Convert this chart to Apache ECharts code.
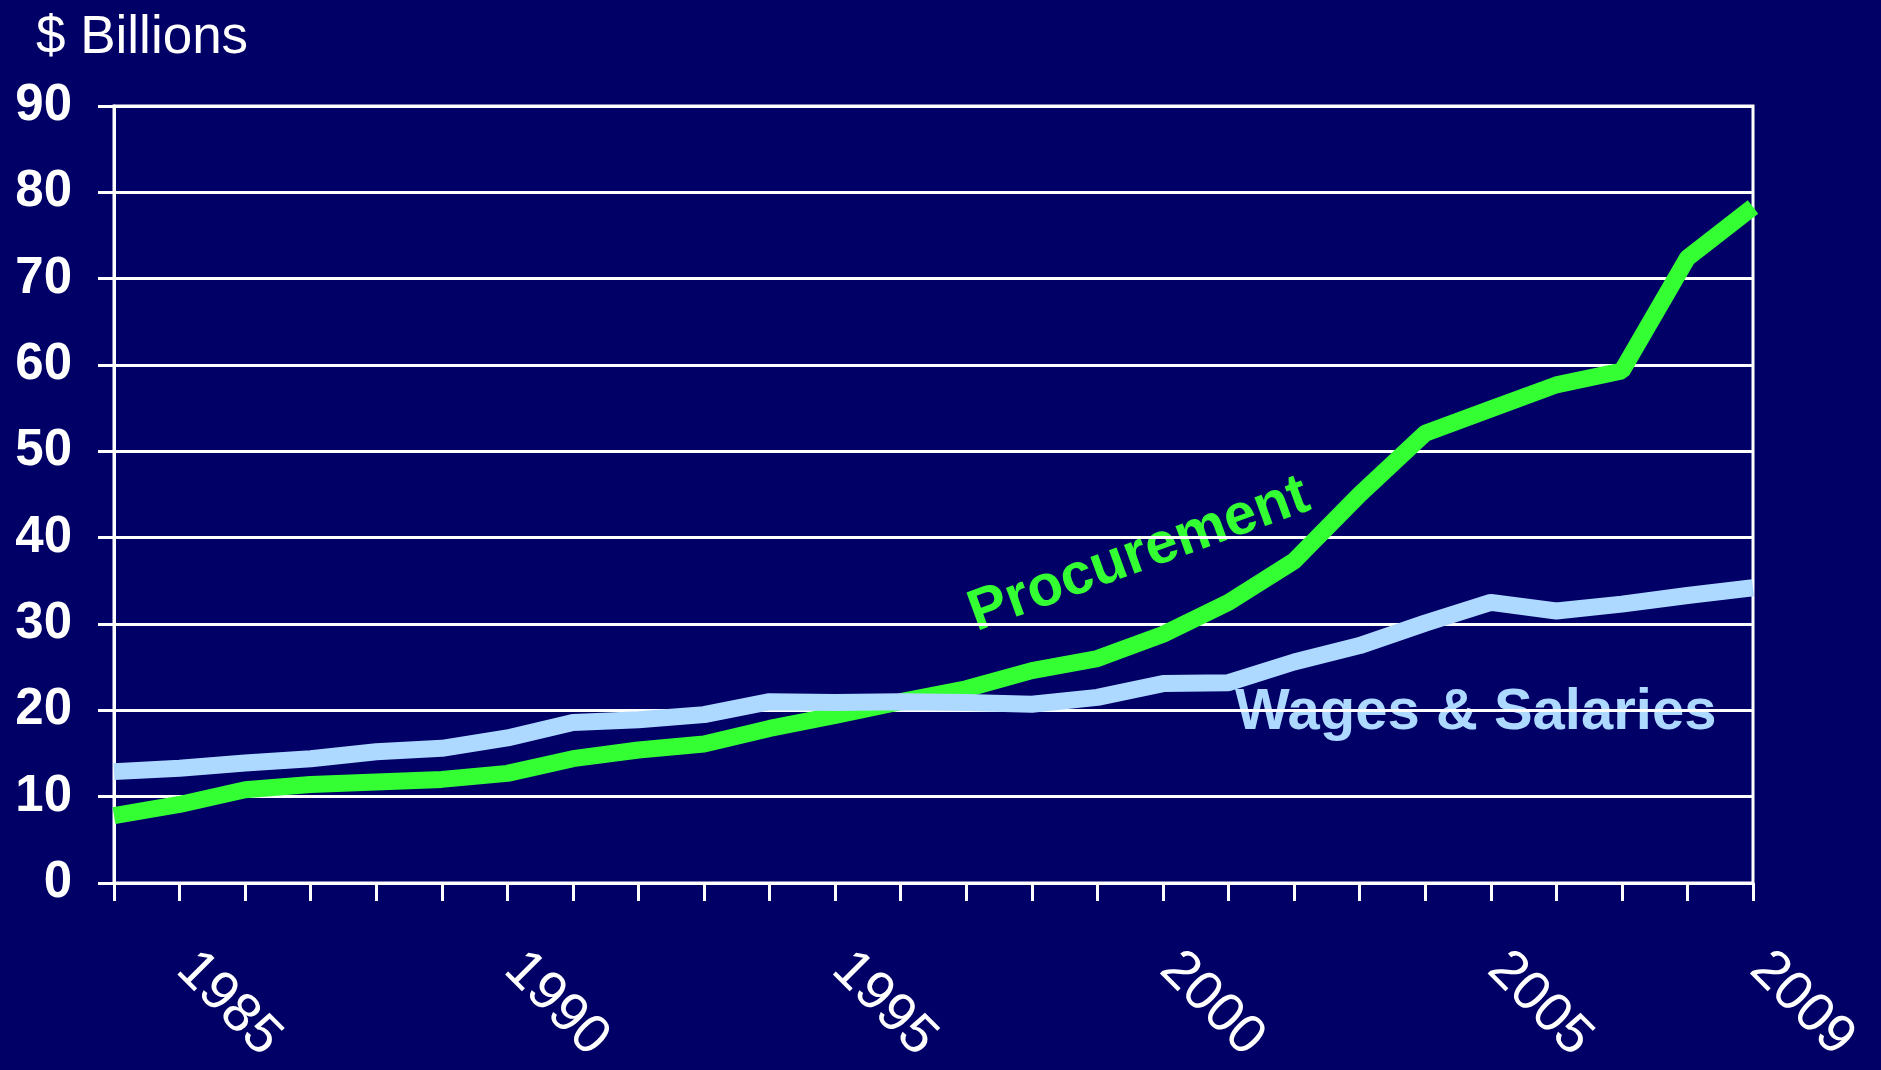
<!DOCTYPE html>
<html>
<head>
<meta charset="utf-8">
<title>Procurement vs Wages & Salaries</title>
<script src="https://cdn.jsdelivr.net/npm/echarts@6/dist/echarts.min.js"></script>
<style>
  html, body { margin: 0; padding: 0; background: #000066; }
  #main { width: 1881px; height: 1070px; }
</style>
</head>
<body>
<div id="main"></div>
<script type="text/javascript">
  var years = ['1984','1985','1986','1987','1988','1989','1990','1991','1992','1993','1994','1995','1996',
               '1997','1998','1999','2000','2001','2002','2003','2004','2005','2006','2007','2008','2009'];
  var shownYears = ['1985','1990','1995','2000','2005','2009'];
  var procurement = [7.8, 9.1, 10.8, 11.4, 11.7, 12.0, 12.7, 14.4, 15.4, 16.1, 17.9, 19.4, 21.0,
                     22.5, 24.6, 26.0, 28.8, 32.5, 37.3, 45.0, 52.1, 54.9, 57.7, 59.3, 72.4, 78.3];
  var wages = [12.9, 13.3, 13.9, 14.4, 15.2, 15.6, 16.8, 18.6, 18.9, 19.5, 21.0, 20.9, 21.0,
               20.9, 20.7, 21.5, 23.1, 23.2, 25.6, 27.5, 30.1, 32.5, 31.5, 32.3, 33.3, 34.2];

  var font = "'Liberation Sans', Arial, sans-serif";
  var charts = echarts.init(document.getElementById('main'));
  charts.setOption({
    backgroundColor: '#000066',
    animation: false,
    grid: {
      left: 114,
      right: 128,
      top: 106,
      bottom: 187,
      show: true,
      borderColor: '#ffffff',
      borderWidth: 3
    },
    xAxis: {
      type: 'category',
      boundaryGap: false,
      data: years,
      axisLine: { lineStyle: { color: '#ffffff', width: 3 } },
      axisTick: { show: true, interval: 0, length: 18, lineStyle: { color: '#ffffff', width: 3 } },
      axisLabel: {
        interval: function (idx, val) { return shownYears.indexOf(val) >= 0; },
        rotate: -45,
        margin: 72,
        padding: [0, 0, 0, 8],
        color: '#ffffff',
        fontSize: 55,
        fontFamily: font
      },
      splitLine: { show: false }
    },
    yAxis: {
      type: 'value',
      min: 0,
      max: 90,
      interval: 10,
      axisLine: { show: true, lineStyle: { color: '#ffffff', width: 3 } },
      axisTick: { show: true, length: 16, lineStyle: { color: '#ffffff', width: 3 } },
      axisLabel: {
        margin: 42,
        color: '#ffffff',
        fontSize: 51,
        fontWeight: 'bold',
        fontFamily: font
      },
      splitLine: { show: true, lineStyle: { color: '#ffffff', width: 3 } }
    },
    graphic: [
      {
        type: 'text', x: 36, y: 38,
        style: { text: '$ Billions', fill: '#ffffff', font: '53px ' + font, align: 'left', verticalAlign: 'middle' }
      },
      {
        type: 'text', x: 1139, y: 555, rotation: 20 * Math.PI / 180,
        style: { text: 'Procurement', fill: '#33ff33', font: 'bold 58px ' + font, align: 'center', verticalAlign: 'middle' }
      },
      {
        type: 'text', x: 1235, y: 713,
        style: { text: 'Wages & Salaries', fill: '#add8ff', font: 'bold 58px ' + font, align: 'left', verticalAlign: 'middle' }
      }
    ],
    series: [
      {
        name: 'Procurement',
        type: 'line',
        data: procurement,
        showSymbol: false,
        lineStyle: { color: '#33ff33', width: 17 }
      },
      {
        name: 'Wages & Salaries',
        type: 'line',
        data: wages,
        showSymbol: false,
        lineStyle: { color: '#add8ff', width: 17 }
      }
    ]
  });
</script>
</body>
</html>
